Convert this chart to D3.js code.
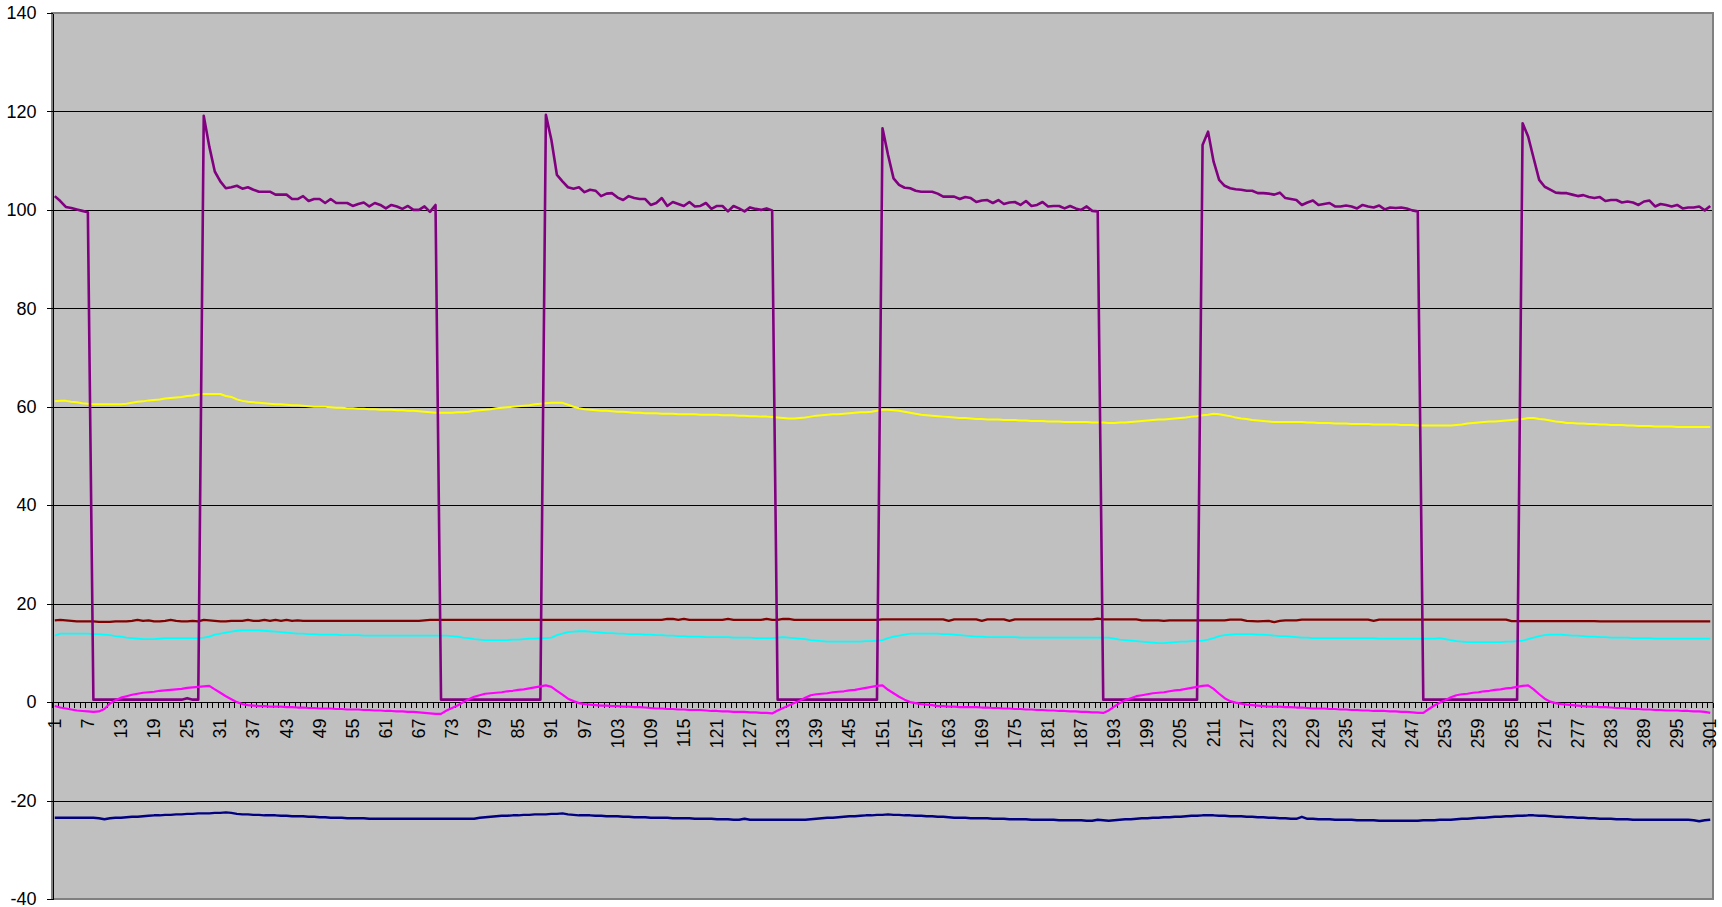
<!DOCTYPE html>
<html>
<head>
<meta charset="utf-8">
<script src="https://cdn.jsdelivr.net/npm/d3@7"></script>
<style>
  html, body { margin: 0; padding: 0; background: #ffffff; }
  svg { display: block; }
  text { font-family: "Liberation Sans", Arial, sans-serif; fill: #000; }
</style>
</head>
<body>
<svg id="chart" width="1722" height="907"></svg>
<script>
// ---------------- DATA ----------------
const categories = d3.range(1, 302); // 1 .. 301

const tickLabels = [1,7,13,19,25,31,37,43,49,55,61,67,73,79,85,91,97,103,109,115,121,127,133,139,145,151,157,163,169,175,181,187,193,199,205,211,217,223,229,235,241,247,253,259,265,271,277,283,289,295,301];

const yTicks = [-40,-20,0,20,40,60,80,100,120,140];

const purpleSeries = [
102.8,101.8,100.6,100.4,100.1,99.8,99.5,0.5,0.5,0.5,
0.5,0.5,0.5,0.5,0.5,0.5,0.5,0.5,0.5,0.5,
0.5,0.5,0.5,0.5,0.8,0.5,0.5,119.1,112.9,107.8,
105.8,104.4,104.6,104.9,104.3,104.6,104.1,103.7,103.7,103.7,
103.1,103.1,103.1,102.2,102.2,102.8,101.8,102.2,102.2,101.4,
102.2,101.4,101.4,101.4,100.8,101.2,101.5,100.7,101.4,101.0,
100.3,101.0,100.7,100.2,100.8,100.0,100.0,100.7,99.6,101.0,
0.5,0.5,0.5,0.5,0.5,0.5,0.5,0.5,0.5,0.5,
0.5,0.5,0.5,0.5,0.5,0.5,0.5,0.5,0.5,119.3,
114.2,107.1,105.8,104.6,104.3,104.6,103.6,104.1,103.9,102.8,
103.3,103.4,102.5,102.0,102.8,102.4,102.2,102.2,101.0,101.4,
102.4,100.8,101.6,101.2,100.8,101.6,100.7,100.8,101.4,100.2,
100.8,100.8,99.7,100.8,100.3,99.7,100.5,100.2,100.0,100.3,
99.9,0.5,0.5,0.5,0.5,0.5,0.5,0.5,0.5,0.5,
0.5,0.5,0.5,0.5,0.5,0.5,0.5,0.5,0.5,0.5,
116.6,111.2,106.4,105.1,104.5,104.4,103.9,103.7,103.7,103.7,
103.3,102.7,102.7,102.7,102.2,102.6,102.4,101.6,101.9,102.0,
101.4,102.0,101.2,101.5,101.6,101.0,101.8,100.8,101.0,101.6,
100.7,100.8,100.8,100.3,100.8,100.3,100.0,100.7,99.8,99.7,
0.5,0.5,0.5,0.5,0.5,0.5,0.5,0.5,0.5,0.5,
0.5,0.5,0.5,0.5,0.5,0.5,0.5,0.5,113.2,115.9,
109.8,106.1,104.9,104.4,104.2,104.1,103.9,103.9,103.4,103.4,
103.3,103.1,103.5,102.4,102.2,102.0,101.0,101.5,101.9,101.0,
101.2,101.4,100.7,100.7,100.9,100.7,100.3,101.0,100.7,100.5,
100.9,100.1,100.5,100.4,100.5,100.3,99.9,99.7,0.5,0.5,
0.5,0.5,0.5,0.5,0.5,0.5,0.5,0.5,0.5,0.5,
0.5,0.5,0.5,0.5,0.5,0.5,117.6,114.9,110.5,106.1,
104.7,104.1,103.5,103.4,103.4,103.1,102.8,103.0,102.6,102.4,
102.6,101.8,102.0,102.0,101.5,101.7,101.5,101.0,101.7,101.9,
100.7,101.2,101.0,100.7,101.0,100.3,100.5,100.5,100.7,99.9,100.8
];

const yellowSeries = [
61.1,61.2,61.2,61.0,60.9,60.7,60.6,60.5,60.5,60.5,
60.5,60.5,60.5,60.6,60.8,61.0,61.1,61.3,61.4,61.5,
61.7,61.8,61.9,62.0,62.2,62.3,62.5,62.6,62.6,62.6,
62.6,62.2,62.0,61.5,61.2,61.0,60.9,60.8,60.7,60.6,
60.5,60.5,60.4,60.3,60.3,60.2,60.1,60.0,60.0,60.0,
59.9,59.8,59.8,59.7,59.7,59.6,59.6,59.5,59.5,59.4,
59.4,59.4,59.3,59.3,59.2,59.2,59.1,59.0,58.9,58.8,
58.8,58.8,58.8,58.9,58.9,59.0,59.2,59.3,59.4,59.5,
59.7,59.8,59.9,60.0,60.1,60.2,60.3,60.5,60.6,60.7,
60.8,60.8,60.8,60.4,60.0,59.7,59.5,59.4,59.3,59.2,
59.2,59.1,59.0,59.0,58.9,58.8,58.8,58.7,58.7,58.7,
58.6,58.6,58.6,58.5,58.5,58.5,58.5,58.4,58.4,58.4,
58.4,58.3,58.3,58.3,58.2,58.2,58.1,58.1,58.0,58.0,
57.9,57.8,57.7,57.6,57.6,57.7,57.8,58.0,58.2,58.3,
58.4,58.5,58.5,58.6,58.7,58.8,58.9,58.9,59.0,59.2,
59.4,59.4,59.3,59.2,59.0,58.8,58.6,58.4,58.3,58.2,
58.1,58.0,57.9,57.8,57.7,57.7,57.6,57.5,57.5,57.4,
57.4,57.4,57.3,57.3,57.3,57.2,57.2,57.1,57.1,57.1,
57.0,57.0,57.0,56.9,56.9,56.9,56.9,56.9,56.8,56.8,
56.8,56.7,56.7,56.8,56.8,56.9,57.0,57.1,57.2,57.3,
57.4,57.4,57.5,57.6,57.7,57.8,58.0,58.1,58.3,58.4,
58.6,58.5,58.3,58.1,57.8,57.6,57.5,57.3,57.2,57.1,
57.0,56.9,56.9,56.9,56.9,56.9,56.9,56.8,56.8,56.7,
56.7,56.7,56.6,56.6,56.6,56.5,56.5,56.5,56.5,56.4,
56.4,56.4,56.4,56.4,56.3,56.3,56.3,56.2,56.2,56.2,
56.2,56.2,56.2,56.2,56.3,56.4,56.6,56.7,56.8,56.9,
57.0,57.0,57.1,57.2,57.3,57.4,57.5,57.7,57.7,57.5,
57.4,57.2,57.0,56.9,56.7,56.7,56.6,56.6,56.5,56.5,
56.4,56.4,56.3,56.3,56.3,56.2,56.2,56.1,56.1,56.1,
56.0,56.0,56.0,56.0,55.9,55.9,55.9,55.9,55.9,55.9,55.9
];

const darkRedSeries = [
16.6,16.7,16.6,16.5,16.4,16.4,16.4,16.4,16.3,16.3,
16.3,16.4,16.4,16.4,16.5,16.7,16.5,16.6,16.4,16.4,
16.5,16.7,16.5,16.4,16.4,16.5,16.4,16.7,16.6,16.5,
16.4,16.4,16.5,16.5,16.5,16.7,16.5,16.5,16.7,16.5,
16.7,16.5,16.7,16.5,16.6,16.5,16.5,16.5,16.5,16.5,
16.5,16.5,16.5,16.5,16.5,16.5,16.5,16.5,16.5,16.5,
16.5,16.5,16.5,16.5,16.5,16.5,16.5,16.6,16.7,16.7,
16.7,16.7,16.7,16.7,16.7,16.7,16.7,16.7,16.7,16.7,
16.7,16.7,16.7,16.7,16.7,16.7,16.7,16.7,16.7,16.7,
16.7,16.7,16.7,16.7,16.7,16.7,16.7,16.7,16.7,16.7,
16.7,16.7,16.7,16.7,16.7,16.7,16.7,16.7,16.7,16.7,
16.7,16.9,16.9,16.7,16.9,16.7,16.7,16.7,16.7,16.7,
16.7,16.7,16.9,16.7,16.7,16.7,16.7,16.7,16.7,16.9,
16.7,16.7,16.9,16.9,16.7,16.7,16.7,16.7,16.7,16.7,
16.7,16.7,16.7,16.7,16.7,16.7,16.7,16.7,16.7,16.7,
16.8,16.8,16.8,16.8,16.8,16.8,16.8,16.8,16.8,16.8,
16.8,16.8,16.5,16.8,16.8,16.8,16.8,16.8,16.5,16.8,
16.8,16.8,16.8,16.5,16.8,16.8,16.8,16.8,16.8,16.8,
16.8,16.8,16.8,16.8,16.8,16.8,16.8,16.8,16.8,16.95,
16.8,16.8,16.8,16.8,16.8,16.8,16.8,16.6,16.6,16.6,
16.6,16.5,16.6,16.6,16.6,16.6,16.6,16.6,16.6,16.6,
16.6,16.6,16.6,16.75,16.75,16.75,16.5,16.45,16.4,16.45,
16.5,16.25,16.5,16.6,16.6,16.6,16.75,16.75,16.75,16.75,
16.75,16.75,16.75,16.75,16.75,16.75,16.75,16.75,16.75,16.5,
16.75,16.75,16.75,16.75,16.75,16.75,16.75,16.75,16.75,16.75,
16.75,16.75,16.75,16.75,16.75,16.75,16.75,16.75,16.75,16.75,
16.75,16.75,16.75,16.75,16.45,16.45,16.45,16.45,16.45,16.45,
16.45,16.45,16.45,16.45,16.45,16.45,16.45,16.45,16.45,16.45,
16.4,16.4,16.4,16.4,16.4,16.4,16.4,16.4,16.4,16.4,
16.4,16.4,16.4,16.4,16.4,16.4,16.4,16.4,16.4,16.4,16.4
];

const cyanSeries = [
13.5,13.9,13.9,13.9,13.9,13.9,13.9,13.8,13.8,13.7,
13.6,13.4,13.3,13.1,13.0,12.9,12.8,12.8,12.8,12.9,
13.0,13.0,13.0,13.0,13.0,13.0,13.0,13.1,13.3,13.7,
13.9,14.1,14.3,14.5,14.6,14.6,14.6,14.6,14.5,14.4,
14.3,14.2,14.1,14.0,13.9,13.9,13.8,13.8,13.7,13.7,
13.7,13.7,13.6,13.6,13.6,13.6,13.5,13.5,13.5,13.5,
13.5,13.5,13.5,13.5,13.5,13.5,13.5,13.5,13.5,13.5,
13.5,13.5,13.4,13.3,13.1,13.0,12.8,12.7,12.6,12.6,
12.6,12.6,12.6,12.7,12.7,12.8,12.9,12.9,13.0,13.0,
13.1,13.6,13.9,14.2,14.3,14.4,14.4,14.3,14.2,14.1,
14.0,14.0,13.9,13.9,13.8,13.8,13.8,13.7,13.7,13.6,
13.6,13.5,13.5,13.4,13.4,13.3,13.3,13.3,13.2,13.2,
13.2,13.2,13.2,13.1,13.1,13.1,13.1,13.0,13.0,13.0,
13.0,13.1,13.2,13.1,13.0,12.9,12.8,12.6,12.5,12.4,
12.3,12.3,12.3,12.3,12.3,12.3,12.3,12.4,12.4,12.5,
12.6,13.0,13.3,13.5,13.7,13.9,13.9,13.9,13.9,13.9,
13.9,13.8,13.8,13.7,13.6,13.5,13.4,13.3,13.3,13.2,
13.2,13.2,13.2,13.2,13.2,13.1,13.1,13.1,13.1,13.1,
13.1,13.1,13.1,13.1,13.1,13.1,13.1,13.1,13.1,13.1,
13.1,13.1,12.9,12.7,12.6,12.5,12.4,12.3,12.2,12.1,
12.0,12.0,12.1,12.2,12.3,12.3,12.4,12.4,12.5,12.7,
13.0,13.4,13.6,13.7,13.8,13.8,13.8,13.8,13.7,13.7,
13.6,13.5,13.4,13.4,13.3,13.2,13.1,13.1,13.0,13.0,
13.0,13.0,13.0,13.0,13.0,13.0,13.0,13.0,13.0,13.0,
12.9,12.9,12.9,12.9,12.9,12.9,12.9,12.9,12.9,12.9,
12.9,13.0,12.8,12.6,12.4,12.3,12.2,12.2,12.2,12.2,
12.2,12.2,12.2,12.3,12.3,12.4,12.5,12.8,13.1,13.4,
13.6,13.7,13.7,13.7,13.6,13.5,13.5,13.4,13.3,13.3,
13.2,13.2,13.1,13.1,13.1,13.1,13.0,13.0,13.0,13.0,
12.9,12.9,12.9,12.9,12.9,12.9,12.9,12.9,12.9,12.9,12.9
];

const magentaSeries = [
-0.8,-1.1,-1.3,-1.5,-1.7,-1.8,-1.9,-2.0,-1.9,-1.4,
-0.3,0.4,0.9,1.2,1.5,1.7,1.9,2.0,2.1,2.3,
2.4,2.5,2.6,2.7,2.9,3.0,3.1,3.2,3.3,2.6,
1.9,1.2,0.6,0.0,-0.4,-0.6,-0.7,-0.8,-0.8,-0.9,
-0.9,-0.9,-1.0,-1.0,-1.1,-1.1,-1.2,-1.2,-1.3,-1.3,
-1.3,-1.4,-1.4,-1.5,-1.5,-1.5,-1.6,-1.6,-1.7,-1.7,
-1.8,-1.8,-1.9,-1.9,-2.0,-2.0,-2.1,-2.2,-2.3,-2.4,
-2.4,-1.7,-1.2,-0.7,0.0,0.6,1.1,1.4,1.7,1.8,
1.9,2.0,2.2,2.3,2.5,2.6,2.8,3.0,3.2,3.4,
3.1,2.3,1.5,0.7,0.2,-0.2,-0.4,-0.5,-0.6,-0.7,
-0.7,-0.8,-0.8,-0.9,-0.9,-1.0,-1.0,-1.1,-1.2,-1.3,
-1.3,-1.4,-1.4,-1.5,-1.5,-1.6,-1.6,-1.6,-1.7,-1.8,
-1.8,-1.9,-1.9,-2.0,-2.0,-2.0,-2.1,-2.1,-2.2,-2.2,
-2.3,-1.7,-1.2,-0.7,-0.2,0.3,0.9,1.4,1.6,1.7,
1.8,2.0,2.1,2.2,2.4,2.5,2.7,2.9,3.1,3.3,
3.4,2.5,1.8,1.1,0.5,0.0,-0.2,-0.4,-0.5,-0.6,
-0.8,-0.8,-0.9,-0.9,-1.0,-1.0,-1.0,-1.0,-1.1,-1.1,
-1.2,-1.2,-1.3,-1.3,-1.4,-1.4,-1.5,-1.5,-1.6,-1.6,
-1.7,-1.7,-1.8,-1.8,-1.9,-1.9,-2.0,-2.0,-2.1,-2.1,
-2.2,-1.7,-0.9,-0.2,0.4,0.8,1.2,1.4,1.6,1.8,
1.9,2.0,2.2,2.4,2.5,2.7,2.9,3.1,3.3,3.4,
2.7,1.7,0.8,0.2,-0.1,-0.3,-0.5,-0.6,-0.7,-0.8,
-0.9,-0.9,-0.9,-1.0,-1.0,-1.1,-1.1,-1.2,-1.3,-1.3,
-1.3,-1.4,-1.4,-1.5,-1.5,-1.6,-1.6,-1.7,-1.7,-1.8,
-1.8,-1.8,-1.9,-1.9,-2.0,-2.0,-2.1,-2.2,-2.2,-1.4,
-0.7,-0.1,0.4,1.0,1.4,1.6,1.7,1.9,2.0,2.2,
2.3,2.5,2.6,2.8,2.9,3.1,3.3,3.4,2.6,1.6,
0.7,0.1,-0.2,-0.4,-0.5,-0.6,-0.7,-0.8,-0.9,-0.9,
-1.0,-1.0,-1.1,-1.2,-1.2,-1.3,-1.4,-1.4,-1.5,-1.5,
-1.6,-1.6,-1.7,-1.7,-1.7,-1.8,-1.8,-1.9,-1.9,-2.0,-2.2
];

const navySeries = [
-23.5,-23.5,-23.5,-23.5,-23.5,-23.5,-23.5,-23.5,-23.6,-23.8,
-23.6,-23.5,-23.5,-23.4,-23.3,-23.3,-23.2,-23.1,-23.0,-23.0,
-22.9,-22.9,-22.8,-22.8,-22.7,-22.7,-22.6,-22.6,-22.6,-22.5,
-22.5,-22.4,-22.5,-22.7,-22.8,-22.8,-22.9,-22.9,-23.0,-23.0,
-23.0,-23.1,-23.1,-23.2,-23.2,-23.2,-23.3,-23.3,-23.4,-23.4,
-23.5,-23.5,-23.5,-23.6,-23.6,-23.6,-23.6,-23.7,-23.7,-23.7,
-23.7,-23.7,-23.7,-23.7,-23.7,-23.7,-23.7,-23.7,-23.7,-23.7,
-23.7,-23.7,-23.7,-23.7,-23.7,-23.7,-23.7,-23.5,-23.4,-23.3,
-23.2,-23.1,-23.1,-23.0,-23.0,-22.9,-22.9,-22.8,-22.8,-22.8,
-22.7,-22.7,-22.6,-22.8,-22.9,-23.0,-23.0,-23.0,-23.1,-23.1,
-23.2,-23.2,-23.2,-23.3,-23.3,-23.4,-23.4,-23.4,-23.5,-23.5,
-23.5,-23.5,-23.6,-23.6,-23.6,-23.6,-23.7,-23.7,-23.7,-23.7,
-23.8,-23.8,-23.8,-23.9,-23.9,-23.7,-23.9,-23.9,-23.9,-23.9,
-23.9,-23.9,-23.9,-23.9,-23.9,-23.9,-23.9,-23.8,-23.7,-23.6,
-23.5,-23.5,-23.4,-23.3,-23.2,-23.2,-23.1,-23.0,-23.0,-22.9,
-22.9,-22.8,-22.9,-22.9,-23.0,-23.0,-23.1,-23.1,-23.2,-23.2,
-23.3,-23.3,-23.4,-23.5,-23.5,-23.5,-23.6,-23.6,-23.6,-23.6,
-23.7,-23.7,-23.7,-23.8,-23.8,-23.8,-23.8,-23.9,-23.9,-23.9,
-23.9,-23.9,-24.0,-24.0,-24.0,-24.0,-24.0,-24.1,-24.1,-23.9,
-24.0,-24.1,-24.0,-23.9,-23.8,-23.8,-23.7,-23.6,-23.6,-23.5,
-23.5,-23.4,-23.4,-23.3,-23.3,-23.2,-23.1,-23.1,-23.0,-23.0,
-23.0,-23.1,-23.1,-23.2,-23.2,-23.2,-23.3,-23.3,-23.4,-23.4,
-23.5,-23.5,-23.6,-23.6,-23.7,-23.7,-23.3,-23.7,-23.7,-23.8,
-23.8,-23.8,-23.9,-23.9,-23.9,-23.9,-24.0,-24.0,-24.0,-24.0,
-24.1,-24.1,-24.1,-24.1,-24.1,-24.1,-24.1,-24.1,-24.0,-24.0,
-24.0,-23.9,-23.9,-23.9,-23.8,-23.7,-23.7,-23.6,-23.5,-23.5,
-23.4,-23.3,-23.3,-23.2,-23.2,-23.1,-23.1,-23.0,-23.0,-23.1,
-23.1,-23.2,-23.3,-23.3,-23.4,-23.4,-23.5,-23.5,-23.6,-23.6,
-23.7,-23.7,-23.7,-23.8,-23.8,-23.8,-23.9,-23.9,-23.9,-23.9,
-23.9,-23.9,-23.9,-23.9,-23.9,-23.9,-23.9,-24.0,-24.2,-24.0,-23.9
];

// series drawn in this order (later on top)
const seriesList = [
  { name: "navy",    values: navySeries,    color: "#000080", width: 2.4 },
  { name: "darkred", values: darkRedSeries, color: "#800000", width: 2.4 },
  { name: "cyan",    values: cyanSeries,    color: "#00FFFF", width: 1.8 },
  { name: "yellow",  values: yellowSeries,  color: "#FFFF00", width: 2 },
  { name: "purple",  values: purpleSeries,  color: "#800080", width: 2.6 },
  { name: "magenta", values: magentaSeries, color: "#FF00FF", width: 2.2 }
];

// ---------------- LAYOUT ----------------
const svg = d3.select("#chart");
const L = 52, R = 1713, T = 13, B = 899;

const x = d3.scaleBand().domain(categories).range([L, R]).paddingInner(0).paddingOuter(0);
const xc = c => x(c) + x.bandwidth() / 2;
const y = d3.scaleLinear().domain([-40, 140]).range([B, T]);

// plot area background
svg.append("rect")
  .attr("x", L).attr("y", T).attr("width", R - L).attr("height", B - T)
  .attr("fill", "#C0C0C0");

// gridlines
svg.append("g").selectAll("line")
  .data(yTicks.filter(v => v > -40 && v < 140))
  .join("line")
  .attr("x1", L).attr("x2", R)
  .attr("y1", d => Math.round(y(d)) + 0.5).attr("y2", d => Math.round(y(d)) + 0.5)
  .attr("stroke", "#000").attr("stroke-width", 1)
  .attr("shape-rendering", "crispEdges");

// plot frame
svg.append("rect")
  .attr("x", L).attr("y", T).attr("width", R - L).attr("height", B - T)
  .attr("fill", "none").attr("stroke", "#808080").attr("stroke-width", 2)
  .attr("shape-rendering", "crispEdges");

// y axis (hyphen-minus labels like the original)
const yAxis = d3.axisLeft(y).tickValues(yTicks).tickSize(6).tickSizeOuter(0).tickPadding(10)
  .tickFormat(d => String(d));
const gy = svg.append("g").attr("transform", `translate(${L + 0.5},0)`).call(yAxis);
gy.select(".domain").attr("stroke", "#000").attr("shape-rendering", "crispEdges");
gy.selectAll(".tick line").attr("stroke", "#000").attr("shape-rendering", "crispEdges");
gy.selectAll(".tick text")
  .attr("font-size", 18)
  .attr("font-family", "'Liberation Sans', Arial, sans-serif")
  .attr("fill", "#000");

// category axis at y = 0
const y0 = Math.round(y(0)) + 0.5;
const gx = svg.append("g");
gx.append("line")
  .attr("x1", L).attr("x2", R).attr("y1", y0).attr("y2", y0)
  .attr("stroke", "#000").attr("stroke-width", 1).attr("shape-rendering", "crispEdges");
const boundaries = categories.map(c => x(c)).concat([R]);
gx.selectAll("line.tk").data(boundaries).join("line").attr("class", "tk")
  .attr("x1", d => Math.round(d) + 0.5).attr("x2", d => Math.round(d) + 0.5)
  .attr("y1", y0).attr("y2", y0 + 5)
  .attr("stroke", "#000").attr("stroke-width", 1).attr("shape-rendering", "crispEdges");
gx.selectAll("text").data(tickLabels).join("text")
  .attr("transform", d => `translate(${xc(d)},${y0 + 16}) rotate(-90)`)
  .attr("text-anchor", "end")
  .attr("dominant-baseline", "central")
  .attr("font-size", 18)
  .text(d => d);

// series lines
const line = d3.line()
  .x((v, i) => xc(categories[i]))
  .y(v => y(v));

svg.append("g").selectAll("path")
  .data(seriesList)
  .join("path")
  .attr("d", s => line(s.values))
  .attr("fill", "none")
  .attr("stroke", s => s.color)
  .attr("stroke-width", s => s.width)
  .attr("stroke-linejoin", "round")
  .attr("stroke-linecap", "butt");
</script>
</body>
</html>
